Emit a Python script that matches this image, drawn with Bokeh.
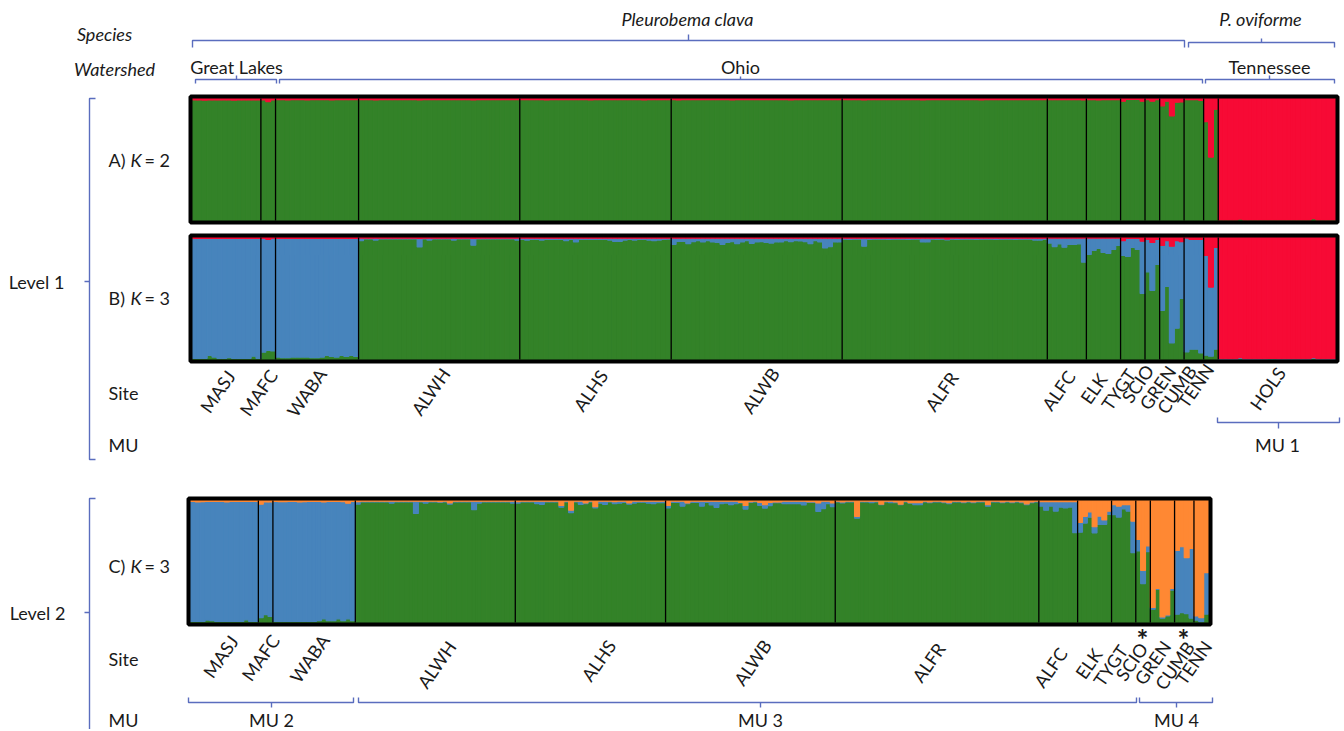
import numpy as np
from bokeh.plotting import figure
from bokeh.models import Range1d, ColumnDataSource
from bokeh.embed import file_html
from bokeh.resources import INLINE
from bokeh.core.properties import value

# ---------------- data ----------------
SITES = ["MASJ", "MAFC", "WABA", "ALWH", "ALHS", "ALWB", "ALFR", "ALFC",
         "ELK", "TYGT", "SCIO", "GREN", "CUMB", "TENN", "HOLS"]
COUNTS = [14, 3, 17, 33, 31, 35, 42, 8, 7, 5, 3, 5, 4, 3, 24]
L2_SITES = ["MASJ", "MAFC", "WABA", "ALWH", "ALHS", "ALWB", "ALFR", "ALFC",
            "ELK", "TYGT", "SCIO", "GREN", "CUMB", "TENN"]
L2_COUNTS = [14, 3, 17, 33, 31, 35, 42, 8, 7, 5, 3, 5, 4, 3]

# A) K = 2 : red membership (green = remainder)
A_RED = [
    0.012, 0.012, 0.013, 0.012, 0.012, 0.011, 0.012, 0.012, 0.013, 0.012, 0.012, 0.012, 0.011, 0.012,  # MASJ
    0.012, 0.025, 0.012,  # MAFC
    0.010, 0.010, 0.012, 0.010, 0.010, 0.010, 0.012, 0.010, 0.010, 0.010, 0.010, 0.012, 0.010, 0.010, 0.010, 0.010, 0.010,  # WABA
    0.010, 0.010, 0.010, 0.012, 0.010, 0.010, 0.010, 0.010, 0.010, 0.010, 0.010,
    0.010, 0.012, 0.010, 0.010, 0.010, 0.010, 0.010, 0.010, 0.010, 0.010, 0.010,
    0.010, 0.012, 0.010, 0.010, 0.010, 0.010, 0.010, 0.010, 0.010, 0.010, 0.010,  # ALWH
    0.010, 0.010, 0.010, 0.010, 0.010, 0.012, 0.010, 0.010, 0.010, 0.010,
    0.010, 0.010, 0.010, 0.010, 0.012, 0.010, 0.010, 0.010, 0.010, 0.010,
    0.010, 0.010, 0.010, 0.010, 0.010, 0.012, 0.010, 0.010, 0.010, 0.010, 0.010,  # ALHS
    0.010, 0.012, 0.010, 0.010, 0.010, 0.010, 0.010, 0.010, 0.010, 0.010,
    0.010, 0.010, 0.012, 0.010, 0.010, 0.010, 0.010, 0.010, 0.010, 0.010,
    0.010, 0.010, 0.010, 0.010, 0.012, 0.010, 0.010, 0.010, 0.010, 0.010,
    0.010, 0.010, 0.010, 0.010, 0.010,  # ALWB
    0.010, 0.010, 0.010, 0.010, 0.012, 0.010, 0.010, 0.010, 0.010, 0.010,
    0.010, 0.010, 0.010, 0.010, 0.010, 0.010, 0.012, 0.010, 0.010, 0.010,
    0.010, 0.010, 0.010, 0.010, 0.010, 0.010, 0.010, 0.010, 0.012, 0.010,
    0.010, 0.010, 0.010, 0.010, 0.010, 0.010, 0.010, 0.010, 0.010, 0.010,
    0.010, 0.010,  # ALFR
    0.010, 0.010, 0.010, 0.010, 0.010, 0.010, 0.010, 0.012,  # ALFC
    0.010, 0.010, 0.012, 0.010, 0.010, 0.010, 0.010,  # ELK
    0.022, 0.008, 0.008, 0.008, 0.022,  # TYGT
    0.010, 0.022, 0.010,  # SCIO
    0.060, 0.022, 0.142, 0.030, 0.027,  # GREN
    0.010, 0.010, 0.010, 0.015,  # CUMB
    0.190, 0.480, 0.088,  # TENN
    0.995, 0.995, 0.995, 0.995, 0.988, 0.995, 0.995, 0.995, 0.995, 0.995, 0.995, 0.995,
    0.995, 0.995, 0.995, 0.995, 0.995, 0.995, 0.995, 0.985, 0.995, 0.995, 0.995, 0.995,  # HOLS
]

# B) K = 3 (level 1): blue and red membership (green = remainder)
B_BLUE = [
    0.982, 0.982, 0.982, 0.959, 0.972, 0.982, 0.982, 0.977, 0.982, 0.982, 0.982, 0.982, 0.965, 0.982,  # MASJ
    0.932, 0.910, 0.922,  # MAFC
    0.972, 0.977, 0.977, 0.972, 0.972, 0.972, 0.972, 0.977, 0.977, 0.972, 0.959, 0.967, 0.972, 0.959, 0.967, 0.959, 0.967,  # WABA
    0.020, 0.005, 0.005, 0.015, 0.005, 0.005, 0.005, 0.005, 0.005, 0.005, 0.005,
    0.005, 0.070, 0.005, 0.015, 0.005, 0.005, 0.005, 0.005, 0.015, 0.005, 0.005,
    0.005, 0.055, 0.005, 0.005, 0.005, 0.005, 0.005, 0.005, 0.005, 0.005, 0.015,  # ALWH
    0.010, 0.015, 0.010, 0.010, 0.015, 0.010, 0.010, 0.010, 0.010, 0.020,
    0.010, 0.030, 0.010, 0.010, 0.010, 0.010, 0.010, 0.010, 0.015, 0.025,
    0.025, 0.015, 0.010, 0.015, 0.010, 0.010, 0.015, 0.020, 0.015, 0.010, 0.008,  # ALHS
    0.050, 0.025, 0.025, 0.045, 0.027, 0.020, 0.030, 0.020, 0.030, 0.035,
    0.050, 0.035, 0.027, 0.045, 0.030, 0.020, 0.042, 0.030, 0.027, 0.035,
    0.040, 0.030, 0.030, 0.020, 0.027, 0.020, 0.022, 0.027, 0.045, 0.020,
    0.030, 0.080, 0.070, 0.030, 0.030,  # ALWB
    0.008, 0.010, 0.008, 0.008, 0.065, 0.010, 0.008, 0.008, 0.008, 0.010,
    0.008, 0.008, 0.008, 0.010, 0.008, 0.008, 0.030, 0.030, 0.008, 0.010,
    0.008, 0.008, 0.008, 0.010, 0.008, 0.008, 0.008, 0.010, 0.008, 0.008,
    0.008, 0.010, 0.008, 0.008, 0.008, 0.010, 0.008, 0.008, 0.008, 0.015,
    0.015, 0.010,  # ALFR
    0.041, 0.069, 0.047, 0.074, 0.052, 0.052, 0.047, 0.197,  # ALFC
    0.134, 0.101, 0.085, 0.118, 0.126, 0.093, 0.060,  # ELK
    0.122, 0.147, 0.074, 0.090, 0.428,  # TYGT
    0.266, 0.393, 0.206,  # SCIO
    0.532, 0.376, 0.793, 0.719, 0.466,  # GREN
    0.932, 0.901, 0.901, 0.931,  # CUMB
    0.818, 0.567, 0.834,  # TENN
    0.003, 0.003, 0.003, 0.003, 0.008, 0.003, 0.003, 0.003, 0.003, 0.003, 0.006, 0.006,
    0.003, 0.003, 0.003, 0.003, 0.003, 0.003, 0.003, 0.008, 0.003, 0.003, 0.003, 0.003,  # HOLS
]
B_RED = [
    0.008, 0.008, 0.008, 0.008, 0.008, 0.008, 0.008, 0.008, 0.008, 0.008, 0.008, 0.008, 0.008, 0.008,  # MASJ
    0.008, 0.015, 0.008,  # MAFC
    0.008, 0.008, 0.008, 0.008, 0.008, 0.008, 0.008, 0.008, 0.008, 0.008, 0.008, 0.008, 0.008, 0.008, 0.008, 0.008, 0.008,  # WABA
    0.006, 0.006, 0.006, 0.006, 0.006, 0.006, 0.006, 0.006, 0.006, 0.006, 0.006,
    0.006, 0.008, 0.006, 0.006, 0.006, 0.006, 0.006, 0.006, 0.006, 0.006, 0.006,
    0.006, 0.008, 0.006, 0.006, 0.006, 0.006, 0.006, 0.006, 0.006, 0.006, 0.006,  # ALWH
    0.006, 0.006, 0.006, 0.006, 0.006, 0.006, 0.006, 0.006, 0.006, 0.006,
    0.006, 0.006, 0.006, 0.006, 0.006, 0.006, 0.006, 0.006, 0.006, 0.006,
    0.006, 0.006, 0.006, 0.006, 0.006, 0.006, 0.006, 0.006, 0.006, 0.006, 0.006,  # ALHS
    0.006, 0.006, 0.006, 0.006, 0.006, 0.006, 0.006, 0.006, 0.006, 0.006,
    0.006, 0.006, 0.006, 0.006, 0.006, 0.006, 0.006, 0.006, 0.006, 0.006,
    0.006, 0.006, 0.006, 0.006, 0.006, 0.006, 0.006, 0.006, 0.006, 0.006,
    0.006, 0.006, 0.006, 0.006, 0.006,  # ALWB
    0.006, 0.006, 0.006, 0.006, 0.006, 0.006, 0.006, 0.006, 0.006, 0.006,
    0.006, 0.006, 0.006, 0.006, 0.006, 0.006, 0.006, 0.006, 0.006, 0.006,
    0.006, 0.012, 0.006, 0.006, 0.006, 0.006, 0.006, 0.006, 0.006, 0.006,
    0.006, 0.006, 0.006, 0.006, 0.006, 0.006, 0.006, 0.006, 0.006, 0.006,
    0.006, 0.006,  # ALFR
    0.005, 0.005, 0.005, 0.005, 0.005, 0.005, 0.005, 0.005,  # ALFC
    0.005, 0.005, 0.005, 0.005, 0.005, 0.005, 0.005,  # ELK
    0.025, 0.008, 0.008, 0.008, 0.030,  # TYGT
    0.015, 0.040, 0.015,  # SCIO
    0.065, 0.025, 0.071, 0.025, 0.033,  # GREN
    0.005, 0.015, 0.015, 0.015,  # CUMB
    0.147, 0.406, 0.082,  # TENN
    0.994, 0.994, 0.994, 0.994, 0.985, 0.994, 0.994, 0.994, 0.994, 0.994, 0.990, 0.990,
    0.994, 0.994, 0.994, 0.994, 0.994, 0.994, 0.994, 0.984, 0.994, 0.994, 0.994, 0.994,  # HOLS
]

# C) K = 3 (level 2): blue and orange membership (green = remainder)
C_BLUE = [
    0.984, 0.980, 0.982, 0.972, 0.977, 0.984, 0.984, 0.978, 0.984, 0.984, 0.984, 0.970, 0.984, 0.984,  # MASJ
    0.930, 0.923, 0.938,  # MAFC
    0.982, 0.980, 0.980, 0.982, 0.982, 0.978, 0.982, 0.984, 0.982, 0.977, 0.958, 0.977, 0.977, 0.962, 0.975, 0.948, 0.977,  # WABA
    0.020, 0.005, 0.005, 0.005, 0.005, 0.005, 0.005, 0.015, 0.005, 0.005, 0.005,
    0.005, 0.100, 0.005, 0.015, 0.005, 0.005, 0.005, 0.005, 0.010, 0.005, 0.005,
    0.005, 0.005, 0.070, 0.015, 0.005, 0.005, 0.005, 0.005, 0.005, 0.005, 0.015,  # ALWH
    0.012, 0.005, 0.005, 0.005, 0.020, 0.025, 0.005, 0.005, 0.005, 0.015,
    0.005, 0.020, 0.005, 0.025, 0.005, 0.005, 0.010, 0.015, 0.025, 0.005,
    0.015, 0.015, 0.010, 0.010, 0.015, 0.008, 0.008, 0.015, 0.020, 0.012, 0.012,  # ALHS
    0.020, 0.010, 0.010, 0.040, 0.005, 0.010, 0.010, 0.040, 0.010, 0.030,
    0.050, 0.020, 0.015, 0.027, 0.020, 0.005, 0.030, 0.005, 0.005, 0.025,
    0.027, 0.027, 0.005, 0.005, 0.020, 0.020, 0.020, 0.020, 0.030, 0.005,
    0.005, 0.070, 0.060, 0.020, 0.030,  # ALWB
    0.005, 0.008, 0.005, 0.005, 0.015, 0.005, 0.005, 0.012, 0.005, 0.005,
    0.005, 0.012, 0.005, 0.005, 0.005, 0.005, 0.017, 0.017, 0.005, 0.006,
    0.005, 0.005, 0.005, 0.008, 0.005, 0.005, 0.005, 0.005, 0.005, 0.005,
    0.005, 0.012, 0.005, 0.005, 0.005, 0.005, 0.005, 0.005, 0.006, 0.008,
    0.005, 0.005,  # ALFR
    0.036, 0.070, 0.036, 0.077, 0.044, 0.050, 0.044, 0.254,  # ALFC
    0.080, 0.055, 0.044, 0.050, 0.068, 0.035, 0.027,  # ELK
    0.082, 0.090, 0.035, 0.054, 0.259,  # TYGT
    0.095, 0.109, 0.046,  # SCIO
    0.014, 0.008, 0.011, 0.008, 0.014,  # GREN
    0.523, 0.540, 0.458, 0.572,  # CUMB
    0.035, 0.033, 0.340,  # TENN
]
C_ORANGE = [
    0.008, 0.012, 0.010, 0.008, 0.008, 0.008, 0.008, 0.012, 0.008, 0.008, 0.008, 0.008, 0.008, 0.008,  # MASJ
    0.030, 0.012, 0.012,  # MAFC
    0.008, 0.010, 0.010, 0.008, 0.008, 0.012, 0.010, 0.008, 0.008, 0.008, 0.012, 0.008, 0.008, 0.008, 0.010, 0.022, 0.008,  # WABA
    0.010, 0.006, 0.006, 0.006, 0.006, 0.006, 0.006, 0.006, 0.006, 0.006, 0.006,
    0.006, 0.006, 0.006, 0.006, 0.006, 0.006, 0.010, 0.006, 0.020, 0.006, 0.006,
    0.006, 0.006, 0.006, 0.006, 0.006, 0.006, 0.006, 0.006, 0.006, 0.006, 0.006,  # ALWH
    0.010, 0.006, 0.006, 0.006, 0.006, 0.006, 0.006, 0.006, 0.006, 0.040,
    0.006, 0.080, 0.006, 0.006, 0.020, 0.006, 0.050, 0.006, 0.006, 0.006,
    0.010, 0.006, 0.006, 0.020, 0.006, 0.006, 0.006, 0.006, 0.006, 0.006, 0.006,  # ALHS
    0.040, 0.006, 0.006, 0.006, 0.020, 0.006, 0.006, 0.006, 0.006, 0.006,
    0.006, 0.006, 0.006, 0.006, 0.006, 0.015, 0.040, 0.010, 0.006, 0.015,
    0.035, 0.015, 0.012, 0.012, 0.006, 0.006, 0.006, 0.006, 0.006, 0.010,
    0.010, 0.020, 0.006, 0.006, 0.020,  # ALWB
    0.006, 0.012, 0.006, 0.006, 0.130, 0.006, 0.006, 0.006, 0.006, 0.030,
    0.006, 0.006, 0.012, 0.030, 0.006, 0.017, 0.017, 0.017, 0.006, 0.012,
    0.006, 0.006, 0.012, 0.017, 0.006, 0.006, 0.012, 0.006, 0.012, 0.006,
    0.006, 0.035, 0.006, 0.006, 0.012, 0.006, 0.012, 0.006, 0.012, 0.027,
    0.012, 0.006,  # ALFR
    0.010, 0.010, 0.010, 0.010, 0.010, 0.010, 0.010, 0.010,  # ALFC
    0.180, 0.130, 0.093, 0.215, 0.128, 0.160, 0.087,  # ELK
    0.033, 0.046, 0.033, 0.033, 0.169,  # TYGT
    0.319, 0.572, 0.373,  # SCIO
    0.877, 0.720, 0.954, 0.937, 0.720,  # GREN
    0.409, 0.379, 0.469, 0.392,  # CUMB
    0.946, 0.960, 0.591,  # TENN
]

for nm, arr, cnt in [("A_RED", A_RED, COUNTS), ("B_BLUE", B_BLUE, COUNTS), ("B_RED", B_RED, COUNTS),
                     ("C_BLUE", C_BLUE, L2_COUNTS), ("C_ORANGE", C_ORANGE, L2_COUNTS)]:
    if len(arr) != sum(cnt):
        raise ValueError(f"{nm}: {len(arr)} vs {sum(cnt)}")

# ---------------- style / layout ----------------
GREEN, BLUE, RED, ORANGE = "#338228", "#4784BC", "#F70A35", "#FF8833"
BRACKET = "#5A6DBE"
INK = "#1A1A1A"
FONT = "Lato"
FS = "18px"

W, H = 1342, 729
PX0, PY0 = 0, 0   # figure origin in the picture

p = figure(width=W, height=H, x_range=Range1d(PX0, PX0 + W), y_range=Range1d(PY0 + H, PY0),
           x_axis_type=None, y_axis_type=None, output_backend="svg",
           toolbar_location=None, min_border=0, outline_line_color=None)

BOX_A = (192, 1335, 98, 220)
BOX_B = (192, 1335, 237, 359)
BOX_C = (190, 1208, 500, 622)

xr, yr = {}, {}
def make_ranges(key, box, n):
    x0, x1, yt, yb = box
    sx = n / (x1 - x0)
    xr[key] = Range1d((PX0 - x0) * sx, (PX0 + W - x0) * sx)
    sy = 1.0 / (yb - yt)
    yr[key] = Range1d((yb - (PY0 + H)) * sy, (yb - PY0) * sy)

make_ranges("A", BOX_A, sum(COUNTS))
make_ranges("B", BOX_B, sum(COUNTS))
make_ranges("C", BOX_C, sum(L2_COUNTS))
p.extra_x_ranges = xr
p.extra_y_ranges = yr

def draw_panel(key, counts, comps, colors, box):
    n = sum(counts)
    data = {"x": np.arange(n) + 0.5}
    others = np.zeros(n)
    for name, arr in comps:
        data[name] = np.array(arr, dtype=float)
        others += data[name]
    data["green"] = np.clip(1.0 - others, 0, 1)
    names = ["green"] + [c[0] for c in comps]
    src = ColumnDataSource(data)
    p.vbar_stack(names, x="x", width=1.0, color=colors, line_width=1.2, source=src,
                 x_range_name=key, y_range_name=key)
    bounds = np.cumsum(counts)[:-1].astype(float)
    p.segment(x0=bounds, y0=np.zeros(len(bounds)), x1=bounds, y1=np.ones(len(bounds)),
              line_color="black", line_width=1.3, x_range_name=key, y_range_name=key)
    x0, x1, yt, yb = box
    p.quad(left=[x0 - 2], right=[x1 + 2], top=[yt - 2], bottom=[yb + 2],
           fill_color=None, line_color="black", line_width=4)

draw_panel("A", COUNTS, [("red", A_RED)], [GREEN, RED], BOX_A)
draw_panel("B", COUNTS, [("blue", B_BLUE), ("red", B_RED)], [GREEN, BLUE, RED], BOX_B)
draw_panel("C", L2_COUNTS, [("blue", C_BLUE), ("orange", C_ORANGE)], [GREEN, BLUE, ORANGE], BOX_C)

# ---------------- brackets ----------------
bx, by = [], []
def hbr(xa, xb, y, xm, hook, tick):
    bx.append([xa, xa, xb, xb]); by.append([y + hook, y, y, y + hook])
    bx.append([xm, xm]); by.append([y, y + tick])

hbr(192, 1184, 40, 688, 7, -6)     # Pleurobema clava
hbr(1188, 1334, 42, 1261, 5, -4)   # P. oviforme
hbr(195, 276, 79, 236, 4, -4)      # Great Lakes
hbr(279, 1202, 79, 740, 4, -3)     # Ohio
hbr(1205, 1334, 79, 1269, 4, -4)   # Tennessee
hbr(1217, 1339, 422, 1278, -5, 6)  # MU 1
hbr(188, 353, 702, 271, -5, 5)     # MU 2
hbr(358, 1136, 702, 760, -5, 5)    # MU 3
hbr(1139, 1212, 702, 1176, -5, 5)  # MU 4
# level brackets
bx.append([95, 89, 89, 95]); by.append([98, 98, 459, 459])
bx.append([89, 84]); by.append([281, 281])
bx.append([95, 89, 89]); by.append([498, 498, 740])
bx.append([89, 84]); by.append([612, 612])
p.multi_line(xs=bx, ys=by, line_color=BRACKET, line_width=1.4)

# ---------------- texts ----------------
def txt(xs, ys, ts, size=FS, style="normal", align="center", angle=0.0, color=INK):
    p.text(x=xs, y=ys, text=ts, text_font=value(FONT), text_font_size=size,
           text_font_style=style, text_align=align, text_baseline="middle",
           text_color=color, angle=angle)

txt([104, 114], [33, 68], ["Species", "Watershed"], style="italic")
txt([687, 1260], [18, 18], ["Pleurobema clava", "P. oviforme"], style="italic")
txt([236, 740, 1269], [66, 66, 66], ["Great Lakes", "Ohio", "Tennessee"])
txt([36, 37], [281, 612], ["Level 1", "Level 2"])
txt([108, 108, 108, 108], [392, 444, 658, 719], ["Site", "MU", "Site", "MU"], align="left")
txt([1277, 271, 760, 1176], [444, 719, 719, 719], ["MU 1", "MU 2", "MU 3", "MU 4"])

# panel titles with italic K
txt([108, 108, 108], [159, 297, 565], ["A)", "B)", "C)"], align="left")
txt([130, 130, 130], [159, 297, 565], ["K", "K", "K"], align="left", style="italic")
txt([144, 144, 144], [159, 297, 565], ["= 2", "= 3", "= 3"], align="left")

ANG = np.deg2rad(55)
B_LAB_X = [217, 258, 306, 430, 590, 760, 941, 1058, 1093, 1118, 1137, 1157, 1176, 1195, 1267]
B_LAB_Y = [391, 392, 392, 391, 390, 390, 391, 390, 388, 389, 383, 387, 389, 385, 388]
txt(B_LAB_X, B_LAB_Y, SITES, angle=ANG)
C_LAB_X = [220, 260, 309, 436, 598, 752, 928, 1050, 1088, 1110, 1131, 1152, 1174, 1193]
C_LAB_Y = [656, 657, 658, 664, 660, 662, 662, 667, 663, 665, 661, 662, 665, 662]
txt(C_LAB_X, C_LAB_Y, L2_SITES, angle=ANG)
txt([1142, 1183], [638, 638], ["*", "*"], size="28px", style="bold")

open("out.html", "w").write(file_html(p, INLINE))
